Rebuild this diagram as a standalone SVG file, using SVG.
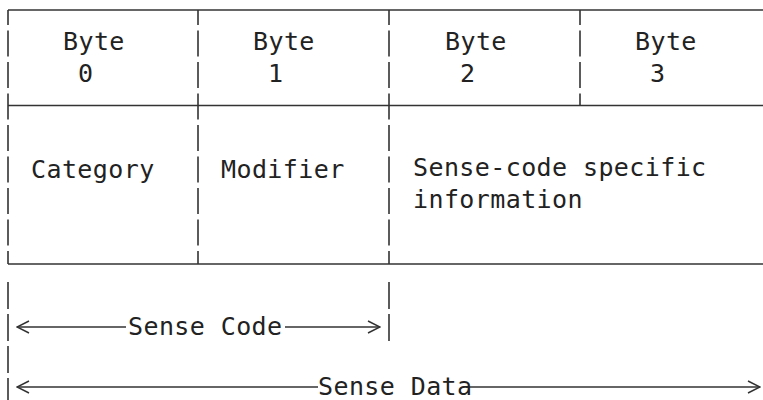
<svg xmlns="http://www.w3.org/2000/svg" width="763" height="400" viewBox="0 0 763 400">
<style>
  .t { font-family: "DejaVu Sans Mono", "Liberation Mono", monospace; font-size: 25px; fill: #222; letter-spacing: 0.4px; }
  .h { stroke: #333; stroke-width: 1.6; fill: none; }
  .v { stroke: #333; stroke-width: 1.6; fill: none; stroke-dasharray: 26 5.5; stroke-dashoffset: 11; }
  .bar { stroke: #333; stroke-width: 1.6; fill: none; stroke-dasharray: 27 5; }
  .dim { stroke: #333; stroke-width: 1.3; fill: none; }
</style>
<defs>
  <marker id="chev" viewBox="0 0 14 14" refX="13" refY="7" markerWidth="14" markerHeight="14" markerUnits="userSpaceOnUse" orient="auto-start-reverse">
    <path d="M1,1 L13,7 L1,13" fill="none" stroke="#333" stroke-width="1.5"/>
  </marker>
</defs>
<rect width="763" height="400" fill="#fff"/>
<g id="table-grid">
  <line class="h" x1="8" y1="10" x2="763" y2="10"/>
  <line class="h" x1="8" y1="105.5" x2="763" y2="105.5"/>
  <line class="h" x1="8" y1="264" x2="763" y2="264"/>
  <line class="v" x1="8" y1="10" x2="8" y2="264"/>
  <line class="v" x1="198" y1="10" x2="198" y2="264"/>
  <line class="v" x1="389" y1="10" x2="389" y2="264"/>
  <line class="v" x1="580" y1="10" x2="580" y2="105"/>
</g>
<g id="byte0"><text class="t" x="63" y="50">Byte</text><text class="t" x="78" y="82">0</text></g>
<g id="byte1"><text class="t" x="253" y="50">Byte</text><text class="t" x="268" y="82">1</text></g>
<g id="byte2"><text class="t" x="445" y="50">Byte</text><text class="t" x="460" y="82">2</text></g>
<g id="byte3"><text class="t" x="635" y="50">Byte</text><text class="t" x="650" y="82">3</text></g>
<g id="category"><text class="t" x="31" y="178">Category</text></g>
<g id="modifier"><text class="t" x="221" y="178">Modifier</text></g>
<g id="sense-code-specific"><text class="t" x="413" y="176">Sense-code specific</text><text class="t" x="413" y="208">information</text></g>
<g id="connectors">
  <line class="bar" x1="8" y1="282" x2="8" y2="400"/>
  <line class="bar" x1="389" y1="282" x2="389" y2="342"/>
  <line class="dim" x1="17" y1="327" x2="126" y2="327" marker-start="url(#chev)"/>
  <line class="dim" x1="285" y1="327" x2="380" y2="327" marker-end="url(#chev)"/>
  <line class="dim" x1="17" y1="387" x2="318" y2="387" marker-start="url(#chev)"/>
  <line class="dim" x1="466" y1="387" x2="760" y2="387" marker-end="url(#chev)"/>
  <text class="t" x="128" y="335">Sense Code</text>
  <text class="t" x="318" y="395">Sense Data</text>
</g>
</svg>
